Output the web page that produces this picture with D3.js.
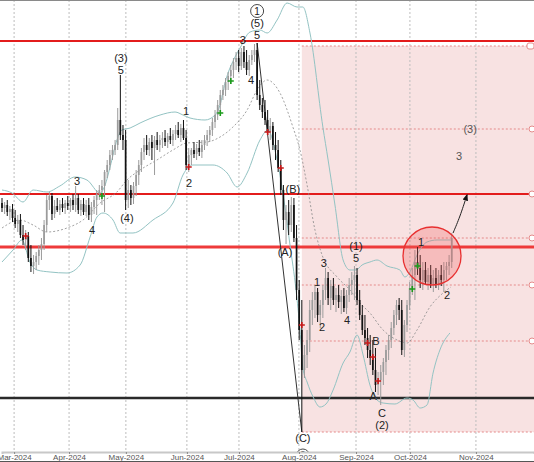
<!DOCTYPE html>
<html><head><meta charset="utf-8">
<script src="https://cdn.jsdelivr.net/npm/d3@7"></script>
<style>body{margin:0;background:#fff}svg{display:block;font-family:"Liberation Sans",Arial,sans-serif}</style>
</head><body><svg id="c" width="534" height="462"></svg>
<script>
// daily bars: [open, high, low, close]
const ohlc = [
[29.7,30.2,28.8,29.2],[29.2,29.8,28.6,29.5],[29.5,30.0,28.4,28.8],[28.8,29.4,28.0,29.1],[29.1,29.6,27.8,28.2],
[28.2,29.0,27.2,27.6],[27.6,28.5,26.8,28.0],[28.0,28.6,26.2,26.5],[26.5,27.5,25.5,26.0],[26.0,27.0,25.0,26.4],
[26.4,26.8,23.8,24.2],[24.2,25.5,22.8,23.4],[23.4,24.5,22.6,23.8],[23.8,24.8,23.0,24.4],[24.4,25.5,23.5,25.0],
[25.0,26.2,24.0,25.6],[25.6,28.0,25.0,27.5],[27.5,30.5,26.8,30.0],[30.0,30.8,29.0,30.4],[30.4,30.7,28.0,28.6],
[28.6,30.0,28.2,29.4],[29.4,30.2,28.8,29.0],[29.0,30.0,28.5,29.6],[29.6,30.2,28.8,29.2],[29.2,30.0,28.6,29.7],
[29.7,30.4,29.0,29.4],[29.4,30.2,28.8,30.0],[30.0,30.6,29.0,29.5],[29.5,31.4,28.8,30.2],[30.2,30.6,28.6,29.0],
[29.0,30.0,28.4,29.6],[29.6,30.2,28.5,28.8],[28.8,30.0,28.4,29.5],[29.5,30.2,28.0,28.5],[28.5,29.8,27.8,29.3],
[29.3,30.4,28.6,30.0],[30.0,31.0,28.5,30.6],[30.6,31.5,30.0,31.0],[31.0,32.0,29.5,31.4],[31.4,33.0,28.8,32.8],
[32.8,34.0,32.2,33.5],[33.5,35.0,33.0,34.5],[34.5,35.5,34.0,35.0],[35.0,36.0,34.5,35.5],[35.5,39.2,35.0,38.0],
[38.0,42.5,36.0,36.5],[36.5,37.5,35.0,36.0],[36.0,37.0,29.0,30.0],[30.0,32.0,29.2,31.0],[31.0,31.5,29.5,30.2],
[30.2,31.8,29.6,31.4],[31.4,33.0,30.4,32.5],[32.5,34.0,31.5,33.5],[33.5,35.2,32.8,34.8],[34.8,36.2,34.0,35.5],
[35.5,36.5,34.5,35.0],[35.0,36.2,34.4,35.8],[35.8,36.5,34.0,35.2],[35.2,36.4,32.5,36.0],[36.0,36.8,35.0,35.5],
[35.5,36.5,34.8,36.0],[36.0,36.8,35.2,36.2],[36.2,37.0,35.4,35.8],[35.8,36.7,35.2,36.4],[36.4,37.2,35.6,36.0],
[36.0,37.0,35.4,36.6],[36.6,37.5,36.0,37.0],[37.0,37.8,36.2,36.5],[36.5,37.6,35.8,37.2],[37.2,38.0,36.0,36.2],
[36.2,37.0,33.0,33.5],[33.5,35.2,32.8,34.5],[34.5,35.2,33.5,35.0],[35.0,35.8,34.2,34.6],[34.6,35.6,34.0,35.2],
[35.2,36.0,34.4,34.8],[34.8,36.0,34.2,35.5],[35.5,36.5,35.0,36.0],[36.0,37.0,35.4,36.5],[36.5,37.4,35.8,37.0],
[37.0,38.2,36.4,37.8],[37.8,39.0,37.2,38.5],[38.5,40.0,38.0,39.5],[39.5,41.0,38.8,40.5],[40.5,41.5,40.0,41.0],
[41.0,42.2,40.4,41.8],[41.8,42.8,41.0,42.4],[42.4,43.5,41.6,43.0],[43.0,44.2,42.2,43.8],[43.8,44.8,43.0,44.2],
[44.2,45.0,42.8,43.4],[43.4,45.2,43.0,44.8],[44.8,45.4,43.2,43.8],[43.8,45.0,42.5,43.0],[43.0,44.5,42.4,44.0],
[44.0,45.0,43.5,44.5],[44.5,45.6,43.8,45.0],[45.0,45.7,40.0,40.5],[40.5,42.0,39.0,39.5],[39.5,40.2,38.2,38.8],
[38.8,40.0,37.5,38.0],[38.0,39.0,36.5,36.8],[36.8,38.2,36.0,37.4],[37.4,37.8,35.0,35.5],[35.5,36.8,34.0,35.0],
[35.0,36.0,32.8,33.2],[33.2,34.0,30.5,31.0],[31.0,31.5,27.0,28.0],[28.0,29.5,25.6,28.8],[28.8,30.0,26.5,27.5],
[27.5,30.3,26.8,29.5],[29.5,30.2,25.8,26.2],[26.2,27.5,20.0,21.0],[21.0,22.0,16.0,17.0],[17.0,20.0,6.8,13.0],
[13.0,15.5,12.2,14.5],[14.5,17.0,13.2,16.0],[16.0,20.0,14.8,19.0],[19.0,20.8,17.5,20.0],[20.0,21.5,18.2,20.8],
[20.8,21.2,17.8,18.5],[18.5,20.0,17.2,19.5],[19.5,21.5,18.2,21.0],[21.0,23.2,20.0,22.2],[22.2,22.8,19.5,20.2],
[20.2,22.0,19.0,21.4],[21.4,22.2,19.5,20.0],[20.0,21.2,18.8,20.5],[20.5,21.5,19.2,19.8],[19.8,21.0,18.6,20.4],
[20.4,21.2,18.8,19.2],[19.2,21.0,18.6,20.5],[20.5,22.2,19.8,21.5],[21.5,22.8,20.5,22.0],[22.0,23.4,20.0,22.5],
[22.5,23.2,19.5,20.0],[20.0,21.0,18.0,18.5],[18.5,19.5,16.5,17.0],[17.0,18.5,15.5,16.2],[16.2,17.2,14.2,15.0],
[15.0,16.5,13.5,14.2],[14.2,16.0,12.5,13.0],[13.0,15.2,10.8,11.5],[11.5,12.8,10.5,12.0],[12.0,13.5,9.5,12.8],
[12.8,14.2,11.5,13.8],[13.8,15.5,12.5,15.0],[15.0,16.5,14.0,16.0],[16.0,17.8,15.2,17.2],[17.2,19.0,16.5,18.5],
[18.5,20.0,17.5,19.5],[19.5,20.2,18.0,19.0],[19.0,20.0,14.5,15.0],[15.0,18.0,14.3,17.5],[17.5,20.0,16.8,19.5],
[19.5,21.8,19.0,21.2],[21.2,23.2,20.5,22.5],[22.5,25.0,20.0,23.8],[23.8,25.3,22.5,23.2],[23.2,24.5,21.2,22.0],
[22.0,23.8,21.0,23.0],[23.0,23.8,21.5,21.8],[21.8,23.2,21.0,22.5],[22.5,23.5,21.2,21.6],[21.6,23.0,20.8,22.2],
[22.2,23.2,21.2,21.5],[21.5,23.0,21.0,22.5],[22.5,23.5,21.4,22.0],[22.0,23.8,20.8,23.0],[23.0,23.8,22.0,23.4],
[23.4,24.5,22.5,23.8],[23.8,26.7,23.2,26.2]
];
// month ticks (position in bar index units)
const monthLabels = ["Mar-2024","Apr-2024","May-2024","Jun-2024","Jul-2024","Aug-2024","Sep-2024","Oct-2024","Nov-2024"];
const monthIdx = [4.6, 25.5, 47.1, 70.3, 90.1, 112.9, 134.6, 155.1, 180.2];
// Bollinger bands [barIndex, price]
const upperBand = [[0,31.0],[3.8,30.7],[8,29.8],[11.8,31.0],[17.1,30.8],[22,31.4],[27.8,32.3],[32.3,32.0],[37.3,30.7],[39.2,31.5],[41.1,33.3],[43.7,36.0],[45.6,37.0],[48.7,37.2],[52.5,37.7],[60.1,38.5],[65.8,38.8],[68.8,38.5],[71.5,38.2],[77.2,38.0],[81,38.5],[82.9,39.5],[84.8,41.7],[88.6,44.3],[90.5,45.2],[94.3,46.8],[98.1,47.0],[100.8,46.7],[104.6,48.0],[108.4,49.7],[112.2,49.3],[114.4,49.3],[117.1,46.7],[122,37.3],[124,34.0],[126.6,29.5],[129.7,24.0],[132.3,23.0],[134.6,23.0],[136.9,23.5],[139.9,23.8],[142.6,24.0],[146.4,23.4],[151.3,23.0],[153.2,22.3],[155.1,22.8],[157.8,24.5],[161.6,25.8],[165.4,26.0],[170.7,26.0]];
const middleBand = [[0,27.2],[6.8,28.0],[11.8,27.5],[17.1,26.8],[24.7,27.2],[30.8,28.0],[37.3,29.7],[43.7,30.8],[47.5,32.0],[52.5,33.0],[58.9,34.0],[65,35.0],[70.3,35.7],[77.9,35.8],[82.9,36.3],[87.8,37.3],[93.2,39.0],[97,41.0],[100.8,42.0],[105.7,40.7],[110.6,37.3],[113.3,35.0],[116,31.5],[119,27.0],[121.7,24.5],[127.4,22.3],[132.3,21.0],[136.1,19.7],[139.9,18.7],[144.9,17.0],[150.2,16.0],[154,15.7],[157.8,17.0],[162.7,19.3],[167.7,20.7],[170.7,21.3]];
const lowerBand = [[0,23.8],[4.2,25.0],[7.6,26.0],[10.6,23.8],[13.3,23.0],[18.3,22.8],[24.7,22.7],[29.7,23.5],[33.5,26.3],[36.1,28.3],[38.4,28.7],[42.2,28.0],[44.9,26.7],[49.8,26.7],[57.4,28.0],[65,29.7],[68.8,32.5],[72.6,33.5],[80.2,33.5],[85.6,32.7],[89.4,31.3],[93.2,32.7],[98.1,36.0],[101.1,37.0],[104.2,34.5],[107.2,30.0],[109.5,25.5],[111.8,21.0],[113.3,17.0],[114.4,13.2],[116,11.8],[118.3,10.3],[120.9,9.3],[123.2,9.6],[125.9,11.0],[129.7,13.7],[132.3,14.8],[135,16.5],[137.3,14.5],[139.9,11.5],[142.6,10.0],[144.9,9.7],[149.4,9.6],[154,10.2],[156.3,10.0],[159,9.2],[161.6,9.5],[163.9,12.7],[166.5,15.0],[170.3,16.7]];
// horizontal levels (price)
const redLevels = [45.9, 30.6];
const redThickLevel = [25.3];
const blackLevels = [10.2];
const fibLevels = [45.4, 37.1, 26.2, 21.5, 15.9, 6.8];
const fibMarkers = [37.1, 30.6, 26.2, 21.5, 15.9];
const zoneStartIdx = 114;
// wave connector and projection arrow [barIndex, price]
const waveLine = [[97,45.7],[114,6.8]];
const arrowPath = [[171.5,26.7],[174.1,28.3],[176.8,30.5]];
const circleCenter = [163.5, 24.4];
// signal crosses [barIndex, price]
const redCrosses = [[9,26.4],[71,33.3],[101,36.8],[106,33.2],[114,17.5],[139,15.7],[141,14.3],[143,11.9]];
const greenCrosses = [[38,30.4],[83,38.7],[87,41.9],[156,21.1],[158,23.4]];
// wave labels [text, barIndex, price]
const waveLabels = [
["(3)",45.2,44.2],["5",45.2,43.0],["3",28.5,31.9],["4",34.2,27.0],["(4)",47.5,28.2],
["1",70,38.9],["2",71.1,31.7],["3",91.6,46.0],["4",94.7,42.0],["5",97,46.5],["(5)",97,47.7],
["(B)",110.6,31.1],["(A)",107.6,24.8],["(C)",114.4,6.2],
["1",119.8,21.8],["2",121.7,17.3],["3",122.4,23.7],["4",131.2,18.0],["5",134.6,24.2],["(1)",134.6,25.4],
["B",142.2,15.9],["A",141.1,10.4],["C",144.5,8.7],["(2)",144.5,7.5],
["1",159.3,25.8],["2",169.2,20.5],["(3)",178,37.1],["3",173.8,34.4]
];
const circledLabels = [["1",97,48.9],["2",114.4,4.45]];

const W=534, PB=452;
const svg = d3.select("#c");
const x = d3.scaleLinear().domain([0,202.28]).range([2,534]);
const y = d3.scaleLinear().domain([4.8,50]).range([PB,0]);

svg.append("defs").append("clipPath").attr("id","plot").append("rect").attr("x",0).attr("y",0).attr("width",W).attr("height",PB);
svg.select("defs").append("marker").attr("id","ah").attr("viewBox","0 0 10 10").attr("refX",8).attr("refY",5)
  .attr("markerWidth",7).attr("markerHeight",7).attr("orient","auto")
  .append("path").attr("d","M0,1L10,5L0,9Z").attr("fill","#111");

const g = svg.append("g").attr("clip-path","url(#plot)");

// zone
const zx = x(zoneStartIdx);
g.append("rect").attr("x",zx).attr("y",y(d3.max(fibLevels))).attr("width",W-zx)
 .attr("height",y(d3.min(fibLevels))-y(d3.max(fibLevels))).attr("fill","#f8e2e2");
g.selectAll(".fib").data(fibLevels).join("line").attr("x1",zx).attr("x2",W).attr("y1",d=>y(d)).attr("y2",d=>y(d))
 .attr("stroke","#e58a8a").attr("stroke-width",1).attr("stroke-dasharray","2,2");

// grid
g.selectAll(".grid").data(monthIdx).join("line").attr("x1",d=>x(d)).attr("x2",d=>x(d)).attr("y1",0).attr("y2",PB)
 .attr("stroke","#bdbdbd").attr("stroke-dasharray","2,2");

// levels
g.selectAll(".rl").data(redLevels).join("line").attr("x1",0).attr("x2",W).attr("y1",d=>y(d)).attr("y2",d=>y(d))
 .attr("stroke","#e31c1c").attr("stroke-width",2);
g.selectAll(".rt").data(redThickLevel).join("line").attr("x1",0).attr("x2",W).attr("y1",d=>y(d)).attr("y2",d=>y(d))
 .attr("stroke","#ee3a3a").attr("stroke-width",3);
g.selectAll(".bl").data(blackLevels).join("line").attr("x1",0).attr("x2",W).attr("y1",d=>y(d)).attr("y2",d=>y(d))
 .attr("stroke","#2a2a2a").attr("stroke-width",2.5);

// bands
const line = d3.line().x(d=>x(d[0])).y(d=>y(d[1])).curve(d3.curveMonotoneX);
g.append("path").attr("d",line(upperBand)).attr("fill","none").attr("stroke","#93c3c3").attr("stroke-width",1);
g.append("path").attr("d",line(lowerBand)).attr("fill","none").attr("stroke","#93c3c3").attr("stroke-width",1);
g.append("path").attr("d",line(middleBand)).attr("fill","none").attr("stroke","#8a8a8a").attr("stroke-width",0.8).attr("stroke-dasharray","2,2");

// wave line
g.append("path").attr("d",d3.line().x(d=>x(d[0])).y(d=>y(d[1]))(waveLine)).attr("stroke","#333").attr("stroke-width",1).attr("fill","none");

// candles
const bw = 1.7;
const cg = g.append("g");
ohlc.forEach((d,i)=>{
  const up = d[3] >= d[0];
  const col = up ? "#9b9b9b" : "#111";
  cg.append("line").attr("x1",x(i)).attr("x2",x(i)).attr("y1",y(d[1])).attr("y2",y(d[2])).attr("stroke",col).attr("stroke-width",1);
  const top = y(Math.max(d[0],d[3])), bot = y(Math.min(d[0],d[3]));
  cg.append("rect").attr("x",x(i)-bw/2).attr("y",top).attr("width",bw).attr("height",Math.max(1,bot-top)).attr("fill",col);
});

// circle highlight
g.append("circle").attr("cx",x(circleCenter[0])).attr("cy",y(circleCenter[1])).attr("r",29)
 .attr("fill","rgba(240,90,90,0.28)").attr("stroke","#e83030").attr("stroke-width",1.3);

// arrow
g.append("path").attr("d",d3.line().x(d=>x(d[0])).y(d=>y(d[1])).curve(d3.curveBasis)(arrowPath))
 .attr("fill","none").attr("stroke","#222").attr("stroke-width",1).attr("marker-end","url(#ah)");

// crosses
const cross = "M-3,0H3M0,-3V3";
g.selectAll(".rc").data(redCrosses).join("path").attr("d",cross).attr("transform",d=>`translate(${x(d[0])},${y(d[1])})`)
 .attr("stroke","#c81818").attr("stroke-width",1.6);
g.selectAll(".gc").data(greenCrosses).join("path").attr("d",cross).attr("transform",d=>`translate(${x(d[0])},${y(d[1])})`)
 .attr("stroke","#1b9b1b").attr("stroke-width",1.6);

// right-edge markers
g.selectAll(".fm").data(fibMarkers).join("circle").attr("cx",W-2).attr("cy",d=>y(d)).attr("r",3)
 .attr("fill","#fff").attr("stroke","#e58a8a");
g.append("rect").attr("x",W-7).attr("y",y(fibLevels[0])-3).attr("width",7).attr("height",6).attr("rx",2)
 .attr("fill","#fff").attr("stroke","#e58a8a");

// labels
g.selectAll(".wl").data(waveLabels).join("text").attr("x",d=>x(d[1])).attr("y",d=>y(d[2]))
 .attr("text-anchor","middle").attr("dominant-baseline","central").attr("font-size",11)
 .attr("fill",d=>d[1]>172?"#555":"#222").text(d=>d[0]);
const cl = g.selectAll(".cl").data(circledLabels).join("g").attr("transform",d=>`translate(${x(d[1])},${y(d[2])})`);
cl.append("circle").attr("r",6.5).attr("fill","#fff").attr("stroke","#333").attr("stroke-width",0.9);
cl.append("text").attr("text-anchor","middle").attr("dominant-baseline","central").attr("font-size",10).attr("fill","#222").text(d=>d[0]);

// frame
svg.append("line").attr("x1",0).attr("x2",W).attr("y1",0.5).attr("y2",0.5).attr("stroke","#8a8a8a");
svg.append("rect").attr("x",0).attr("y",PB).attr("width",W).attr("height",10).attr("fill","#fff");
const ax = svg.append("g").attr("transform",`translate(0,${PB})`)
 .call(d3.axisBottom(x).tickValues(monthIdx).tickFormat((d,i)=>monthLabels[i]).tickSize(2).tickPadding(0));
ax.select(".domain").attr("stroke","#c8c8c8").attr("stroke-width",2);
ax.selectAll(".tick line").attr("stroke","#888");
ax.selectAll("text").attr("y",5).attr("dy","0.35em").attr("font-size",8).attr("fill","#555").attr("font-family","Liberation Sans, Arial, sans-serif");
svg.append("line").attr("x1",0).attr("x2",W).attr("y1",461.5).attr("y2",461.5).attr("stroke","#555");
</script></body></html>
